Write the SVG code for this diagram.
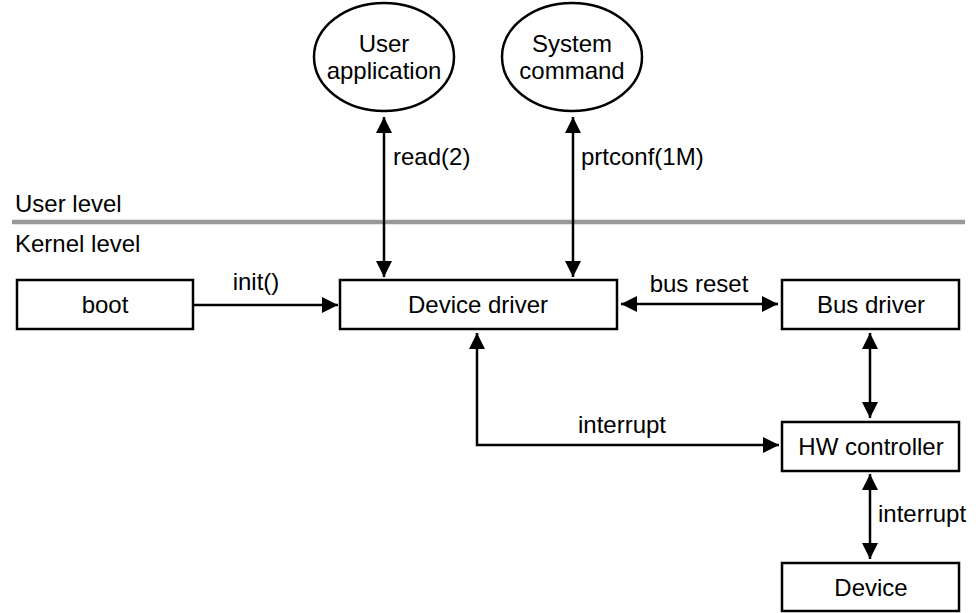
<svg xmlns="http://www.w3.org/2000/svg" width="976" height="613" viewBox="0 0 976 613">
<defs>
<marker id="ah" viewBox="0 0 16 16" refX="16" refY="8" markerWidth="16" markerHeight="16" markerUnits="userSpaceOnUse" orient="auto-start-reverse">
<path d="M0,0 L16,8 L0,16 Z" fill="#000"/>
</marker>
<style>
text{font-family:"Liberation Sans",Arial,Helvetica,sans-serif;font-size:24px;fill:#000}
.c{text-anchor:middle}
.box{fill:#fff;stroke:#000;stroke-width:2.5}
.ln{fill:none;stroke:#000;stroke-width:2.5}
</style>
</defs>
<rect width="976" height="613" fill="#fff"/>
<line x1="12" y1="222" x2="965" y2="222" stroke="#999" stroke-width="4.5"/>
<text x="15" y="212">User level</text>
<text x="15" y="252">Kernel level</text>
<g id="connectors">
<line class="ln" x1="384" y1="117" x2="384" y2="277" marker-start="url(#ah)" marker-end="url(#ah)"/>
<line class="ln" x1="573" y1="117" x2="573" y2="277" marker-start="url(#ah)" marker-end="url(#ah)"/>
<line class="ln" x1="193" y1="305" x2="338" y2="305" marker-end="url(#ah)"/>
<line class="ln" x1="621" y1="304" x2="778" y2="304" marker-start="url(#ah)" marker-end="url(#ah)"/>
<line class="ln" x1="870" y1="333" x2="870" y2="418" marker-start="url(#ah)" marker-end="url(#ah)"/>
<polyline class="ln" points="477,333 477,445 779,445" marker-start="url(#ah)" marker-end="url(#ah)"/>
<line class="ln" x1="870" y1="474" x2="870" y2="559" marker-start="url(#ah)" marker-end="url(#ah)"/>
<text x="393" y="165">read(2)</text>
<text x="581" y="165">prtconf(1M)</text>
<text class="c" x="256" y="290">init()</text>
<text class="c" x="699" y="292">bus reset</text>
<text class="c" x="622" y="433">interrupt</text>
<text x="878" y="522">interrupt</text>
</g>
<g id="user-app"><ellipse class="box" cx="384" cy="57" rx="70" ry="54"/><text class="c" x="384" y="52">User</text><text class="c" x="384" y="79">application</text></g>
<g id="sys-cmd"><ellipse class="box" cx="572" cy="57" rx="70" ry="54"/><text class="c" x="572" y="52">System</text><text class="c" x="572" y="79">command</text></g>
<g id="boot"><rect class="box" x="17" y="280" width="176" height="49"/><text class="c" x="105" y="313">boot</text></g>
<g id="device-driver"><rect class="box" x="340" y="280" width="277" height="49"/><text class="c" x="478" y="313">Device driver</text></g>
<g id="bus-driver"><rect class="box" x="782" y="280" width="177" height="49"/><text class="c" x="871" y="313">Bus driver</text></g>
<g id="hw-controller"><rect class="box" x="782" y="422" width="177" height="49"/><text class="c" x="871" y="455">HW controller</text></g>
<g id="device"><rect class="box" x="782" y="563" width="177" height="48"/><text class="c" x="871" y="596">Device</text></g>
</svg>
